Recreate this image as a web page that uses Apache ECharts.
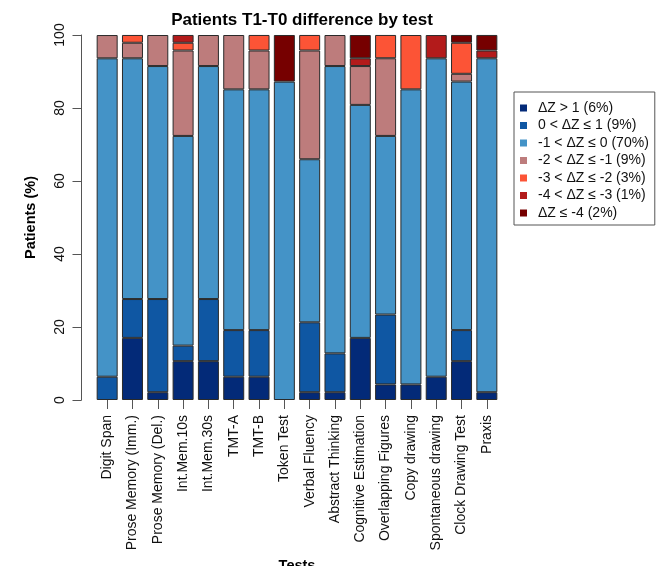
<!DOCTYPE html>
<html>
<head>
<meta charset="utf-8">
<script src="https://cdn.jsdelivr.net/npm/echarts@6/dist/echarts.min.js"></script>
<style>
html,body{margin:0;padding:0;background:#fff;}
#chart{width:659px;height:566px;}
</style>
</head>
<body>
<div id="chart"></div>
<script>
var categories = ["Digit Span","Prose Memory (Imm.)","Prose Memory (Del.)","Int.Mem.10s","Int.Mem.30s","TMT-A","TMT-B","Token Test","Verbal Fluency","Abstract Thinking","Cognitive Estimation","Overlapping Figures","Copy drawing","Spontaneous drawing","Clock Drawing Test","Praxis"];
var seriesNames = ["\u0394Z > 1 (6%)","0 < \u0394Z \u2264 1 (9%)","-1 < \u0394Z \u2264 0 (70%)","-2 < \u0394Z \u2264 -1 (9%)","-3 < \u0394Z \u2264 -2 (3%)","-4 < \u0394Z \u2264 -3 (1%)","\u0394Z \u2264 -4 (2%)"];
var colors = ["#032a78","#0f57a3","#4493c7","#bd7c7c","#fc5436","#b31b1b","#760000"];
var gt1 = [0,17.02,2.13,10.64,10.64,6.38,6.38,0,2.13,2.13,17.02,4.26,4.26,6.38,10.64,2.13];
var z0to1 = [6.38,10.64,25.53,4.26,17.02,12.77,12.77,0,19.15,10.64,0,19.15,0,0,8.51,0];
var zm1to0 = [87.23,65.96,63.83,57.45,63.83,65.96,65.96,87.23,44.68,78.72,63.83,48.94,80.85,87.23,68.09,91.49];
var zm2tom1 = [6.38,4.26,8.51,23.40,8.51,14.89,10.64,0,29.79,8.51,10.64,21.28,0,0,2.13,0];
var zm3tom2 = [0,2.13,0,2.13,0,0,4.26,0,4.26,0,0,6.38,14.89,0,8.51,0];
var zm4tom3 = [0,0,0,2.13,0,0,0,0,0,0,2.13,0,0,6.38,0,2.13];
var lem4 = [0,0,0,0,0,0,0,12.77,0,0,6.38,0,0,0,2.13,4.26];
var yTicks = [0,20,40,60,80,100];

var allData = [gt1,z0to1,zm1to0,zm2tom1,zm3tom2,zm4tom3,lem4];
var FONT = "Liberation Sans, Arial, sans-serif";

var series = allData.map(function(arr,i){
  return {
    name: seriesNames[i],
    type: 'bar',
    stack: 'all',
    barWidth: 21,
    data: arr.map(function(v){ return v === 0 ? null : v; }),
    itemStyle: {color: colors[i], borderColor: '#2a2a2a', borderWidth: 1},
    emphasis: {disabled: true},
    animation: false
  };
});

var chart = echarts.init(document.getElementById('chart'));
chart.setOption({
  animation: false,
  backgroundColor: '#ffffff',
  textStyle: {fontFamily: FONT},
  title: {
    text: 'Patients T1-T0 difference by test',
    left: 297, top: 7, textAlign: 'center',
    textStyle: {fontFamily: FONT, fontSize: 17, fontWeight: 'bold', color: '#000'}
  },
  legend: {
    orient: 'vertical',
    left: 514, top: 92,
    padding: [9, 6, 5, 6],
    borderColor: '#555', borderWidth: 1,
    itemWidth: 7, itemHeight: 7, itemGap: 3.5,
    icon: 'rect',
    itemStyle: {borderWidth: 0},
    textStyle: {fontFamily: FONT, fontSize: 14, color: '#111', lineHeight: 14, padding: [0,0,0,6]},
    data: seriesNames
  },
  grid: {left: 94.5, width: 405, top: 35, height: 365, containLabel: false, outerBoundsMode: 'none'},
  xAxis: {
    type: 'category',
    data: categories,
    name: 'Tests',
    nameLocation: 'middle',
    nameGap: 157,
    nameTextStyle: {fontFamily: FONT, fontSize: 14.5, fontWeight: 'bold', color: '#000', verticalAlign: 'top'},
    axisLine: {show: false},
    axisTick: {show: true, alignWithLabel: true, length: 9, lineStyle: {color: '#555'}},
    axisLabel: {rotate: 90, margin: 15, fontFamily: FONT, fontSize: 14, color: '#111', interval: 0}
  },
  yAxis: {
    type: 'value',
    min: 0, max: 100, interval: 20,
    offset: 13,
    name: 'Patients (%)',
    nameLocation: 'middle',
    nameGap: 43,
    nameTextStyle: {fontFamily: FONT, fontSize: 14.5, fontWeight: 'bold', color: '#000'},
    splitLine: {show: false},
    axisLine: {show: true, lineStyle: {color: '#555'}},
    axisTick: {show: true, length: 9, lineStyle: {color: '#555'}},
    axisLabel: {rotate: 90, margin: 14, fontFamily: FONT, fontSize: 14, color: '#111',
      formatter: function(v){ return yTicks.indexOf(v) >= 0 ? String(v) : ''; }}
  },
  series: series
});
</script>
</body>
</html>
